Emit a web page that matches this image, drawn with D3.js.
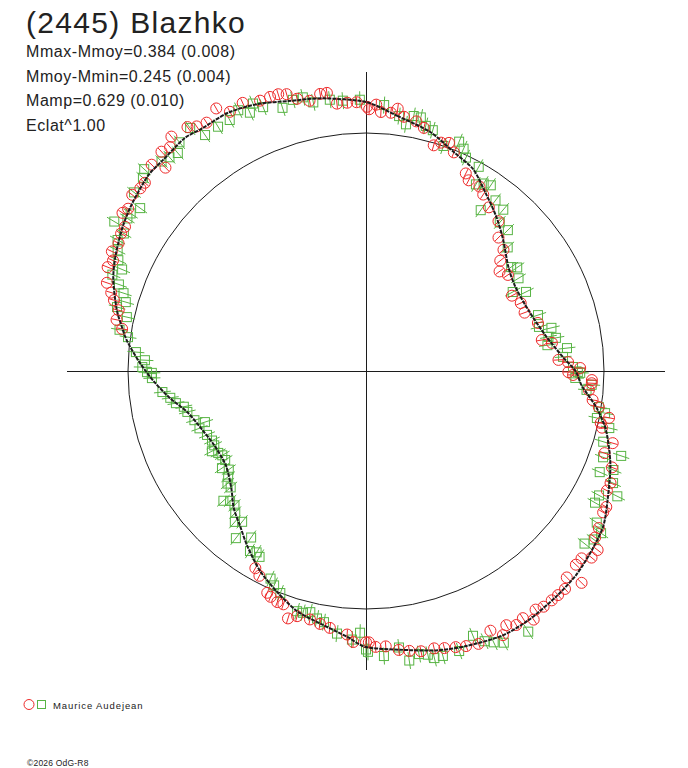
<!DOCTYPE html>
<html><head><meta charset="utf-8">
<script src="https://cdn.jsdelivr.net/npm/d3@7"></script>
<style>body{margin:0;background:#fff}svg{display:block}</style>
</head><body><svg id="c" width="688" height="768"></svg>
<script>
// ---- text ----
const title = "(2445) Blazhko";
const statLines = ["Mmax-Mmoy=0.384 (0.008)", "Mmoy-Mmin=0.245 (0.004)", "Mamp=0.629 (0.010)", "Eclat^1.00"];
const legendLabel = "Maurice Audejean";
const credit = "\u00A92026 OdG-R8";

// ---- data (phase in degrees, amplitude relative to mean circle) ----
const meanAmp = 1.0;
const axisExtent = 1.255;
const curvePhase = [0,7,15,22,28,34,40,46,54,61,70,79,86,90,94,99,104,111,118,123,128,134,140,147,153,160,166,173,180,184,190,196,202,208,214,219,224,229,236,244,250,257,262,267,272,277,280,284,290,295,301,306,312,316,322,326,332,338,344,351];
const curveAmp   = [1.13,1.08,1.04,0.99,0.96,0.90,0.85,0.80,0.74,0.72,0.73,0.77,0.83,0.88,0.91,0.98,1.04,1.10,1.15,1.19,1.21,1.23,1.24,1.25,1.25,1.23,1.21,1.18,1.16,1.12,1.08,1.05,1.00,0.95,0.89,0.84,0.80,0.75,0.71,0.71,0.73,0.77,0.83,0.89,0.95,1.01,1.04,1.08,1.13,1.16,1.19,1.21,1.23,1.23,1.24,1.23,1.23,1.21,1.18,1.16];

const redObs = [
[330.3,1.27],[332.3,1.23],[335.3,1.24],[338.6,1.22],[340.7,1.22],[342.4,1.22],[344,1.21],[345.8,1.18],[348.2,1.16],[350.6,1.18],[352,1.18],[353.8,1.13],[356,1.13],[358,1.13],[0.2,1.11],
[327.3,1.24],[325.3,1.25],[323.8,1.27],[320.3,1.28],[318.8,1.25],[317,1.26],[315.4,1.20],[313.9,1.25],[310.4,1.22],[309,1.22],[307,1.23],[304.3,1.21],[303,1.22],[300.9,1.18],[299.3,1.18],[297.3,1.17],[295.2,1.18],[293.6,1.16],[291.9,1.17],[288.8,1.15],[287.1,1.12],[285.7,1.10],[283.8,1.07],[281.6,1.07],[279.8,1.04],
[209.3,0.95],[207.5,0.97],[204,1.02],[202.9,1.03],[201,1.04],[199.5,1.04],[197.5,1.09],[195.7,1.07],[192.7,1.07],[190.3,1.08],[188,1.09],[184.1,1.11],[182.7,1.14],[180,1.14],
[90.3,0.85],[91.1,0.87],[93.1,0.95],[94.9,0.94],[97.3,0.96],[98.8,0.99],[100.9,1.04],[102.5,1.01],[103.5,1.02],[106.3,1.08],[109,1.06],[111.4,1.11],[114.6,1.13],[116.4,1.13],[119.5,1.16],[120.8,1.16],[124,1.18],[126,1.19],[127.7,1.23],[129.6,1.23],[131,1.20],[132.7,1.20],[135.8,1.21],[134.5,1.27],[137.6,1.24],[139.4,1.24],[141,1.24],[143,1.24],[144.6,1.23],[146,1.26],[147.6,1.23],[149.4,1.24],[151.1,1.22],[154.4,1.21],[152.6,1.25],[157.6,1.24],[160,1.23],[162,1.22],[164.2,1.21],[166.2,1.20],[168.9,1.20],[171.2,1.19],[173.3,1.18],[175.9,1.16],[178,1.16],[179.4,1.14],
[0.7,1.10],[2.2,1.12],[3.3,1.09],[5.5,1.09],[6.9,1.11],[8.5,1.08],[11.4,1.07],[13.4,1.05],[16.7,0.99],[18.2,1.01],[20,1.02],[21.9,0.99],[26.8,0.93],[28.3,0.91],[31.6,0.91],[33.6,0.89],[36.9,0.86],[41.5,0.84],[44.8,0.79],[48.6,0.77],[50.6,0.73],[53.3,0.70],[55.9,0.72],[62.7,0.69],[66.3,0.71],[69.8,0.71],[74.4,0.75],[80,0.75],[81.4,0.79],[86.7,0.81],[87.5,0.85],[89.2,0.90],[92.3,0.95]
];

const greenObs = [
[333.9,1.22],[335.8,1.19],[337.1,1.22],[338.7,1.19],[342.4,1.16],[344.9,1.18],[347,1.18],[348.9,1.15],[352.4,1.15],[355.1,1.14],[358.7,1.14],[331.5,1.20],[328.8,1.20],[325.7,1.20],[324.1,1.26],[320.8,1.24],[319.2,1.21],[317.4,1.22],[315.7,1.23],[312.3,1.26],[310.9,1.24],[307.6,1.23],[305.8,1.17],[303.8,1.19],[300.7,1.23],[302.6,1.19],[299.6,1.17],[297.8,1.18],[295.9,1.16],[294.1,1.14],[292.6,1.11],[290.8,1.14],[289.3,1.10],[287.8,1.07],[286,1.05],[284.4,1.08],[282.7,1.03],[279.5,1.05],[278.1,1.01],[274.7,0.97],[272.8,0.93],[271,0.94],[269.5,0.90],
[269.7,0.92],[268.1,0.90],[264.1,0.86],[262.2,0.83],[260.4,0.81],[258.9,0.78],[257.1,0.77],[254,0.75],[252.4,0.71],[251,0.74],[248.1,0.72],[245.7,0.71],[243.9,0.71],[242.5,0.73],[241,0.71],[239.6,0.70],[237.7,0.70],[236,0.73],[234.3,0.71],[232.5,0.73],[230.9,0.75],[229.3,0.75],[227.7,0.81],[226.3,0.79],[224.4,0.79],[222.7,0.81],[221,0.84],[219.4,0.82],[217.9,0.89],[214.6,0.85],[212.8,0.90],[211.1,0.89],[209.8,0.90],[204.7,0.96],[203.2,0.98],[201.1,1.00],[196,1.05],[194.6,1.05],[193,1.04],[191.2,1.06],[189.5,1.07],[186.3,1.11],[183,1.13],[181.3,1.10],[180,1.17],
[90.3,0.89],[91.9,0.88],[94.9,0.93],[93.5,0.95],[98.8,0.99],[101.5,0.99],[100,1.02],[103.2,1.05],[106.6,1.04],[110,1.06],[108.4,1.13],[113.4,1.07],[111.8,1.12],[114.4,1.14],[118.1,1.11],[116.5,1.18],[119.9,1.11],[123.3,1.16],[124.6,1.20],[126.5,1.19],[128.3,1.17],[148.1,1.29],[153.1,1.28],[154.8,1.26],[156.3,1.24],[158,1.20],[161.6,1.24],[164.9,1.24],[166.6,1.24],[167.7,1.22],[169.4,1.21],[171.5,1.23],[173.2,1.17],[176.4,1.20],[179.6,1.18],
[3.9,1.12],[7.4,1.08],[10.6,1.09],[12.2,1.09],[9.2,1.05],[13.7,1.06],[15.5,1.05],[19,1.00],[22.1,1.04],[23.7,1.02],[25.1,0.99],[28.9,0.98],[30.5,0.91],[32.1,0.93],[33.9,0.94],[37.2,0.90],[40.4,0.89],[35.5,0.83],[42,0.84],[45.2,0.84],[48.9,0.79],[54.4,0.75],[55.6,0.77],[58.7,0.75],[61.7,0.70],[63.7,0.75],[72,0.76],[75.7,0.75],[79.4,0.78],[76.9,0.80],[80.1,0.81],[81.9,0.77],[83.5,0.85],[85.9,0.83],[88.9,0.87],[90.5,0.90]
];

// ---- drawing ----
const svg = d3.select("#c");
const cx = 366, cy = 371;
const rScale = d3.scaleLinear().domain([0, 1]).range([0, 238]);
const aScale = d3.scaleLinear().domain([0, 360]).range([0, 2 * Math.PI]);
const X = (p, a) => rScale(a) * Math.sin(aScale(p));
const Y = (p, a) => -rScale(a) * Math.cos(aScale(p));
const RED = "#ee2a2a", GREEN = "#58b444", INK = "#1c1c1c";

svg.append("rect").attr("width", 688).attr("height", 768).attr("fill", "#fff");
const g = svg.append("g").attr("transform", `translate(${cx},${cy})`);

// axes
[[270, 90], [0, 180]].forEach(([p1, p2]) => {
  g.append("line")
    .attr("x1", X(p1, axisExtent)).attr("y1", Y(p1, axisExtent))
    .attr("x2", X(p2, axisExtent)).attr("y2", Y(p2, axisExtent))
    .attr("stroke", INK).attr("stroke-width", 1).attr("shape-rendering", "crispEdges");
});
// mean circle
g.append("circle").attr("r", rScale(meanAmp)).attr("fill", "none").attr("stroke", INK).attr("stroke-width", 1);

function errBar(sel, half) {
  sel.append("line")
    .attr("x1", d => X(d[0], d[1]) - half * Math.sin(aScale(d[0])))
    .attr("y1", d => Y(d[0], d[1]) + half * Math.cos(aScale(d[0])))
    .attr("x2", d => X(d[0], d[1]) + half * Math.sin(aScale(d[0])))
    .attr("y2", d => Y(d[0], d[1]) - half * Math.cos(aScale(d[0])));
}

// green squares
const gg = g.append("g").attr("stroke", GREEN).attr("fill", "none").attr("stroke-width", 1);
const gs = gg.selectAll("g").data(greenObs).join("g");
gs.append("rect")
  .attr("x", d => X(d[0], d[1]) - 4.5).attr("y", d => Y(d[0], d[1]) - 4.5)
  .attr("width", 9).attr("height", 9);
errBar(gs, 8.5);

// red circles
const rg = g.append("g").attr("stroke", RED).attr("fill", "none").attr("stroke-width", 1);
const rs = rg.selectAll("g").data(redObs).join("g");
rs.append("circle")
  .attr("cx", d => X(d[0], d[1])).attr("cy", d => Y(d[0], d[1])).attr("r", 5.5);
errBar(rs, 5);

// fitted curve
const curveData = curvePhase.map((p, i) => [p, curveAmp[i]]);
const line = d3.lineRadial()
  .angle(d => aScale(d[0])).radius(d => rScale(d[1]))
  .curve(d3.curveCardinalClosed.tension(0.2));
g.append("path").attr("d", line(curveData))
  .attr("fill", "none").attr("stroke", INK).attr("stroke-width", 2)
  .attr("stroke-dasharray", "4,1");

// texts
const FONT = "'Liberation Sans', Arial, sans-serif";
svg.append("text").attr("x", 26).attr("y", 33).text(title)
  .attr("font-family", FONT).attr("font-size", 30).attr("letter-spacing", 1.3).attr("fill", "#222");
svg.selectAll("text.stat").data(statLines).join("text").attr("class", "stat")
  .attr("x", 26).attr("y", (d, i) => 57 + i * 24.6).text(d => d)
  .attr("font-family", FONT).attr("font-size", 16).attr("letter-spacing", 0.55).attr("fill", "#222");

// legend
svg.append("circle").attr("cx", 29).attr("cy", 704.5).attr("r", 5)
  .attr("fill", "none").attr("stroke", RED).attr("stroke-width", 1);
svg.append("rect").attr("x", 37.5).attr("y", 700.5).attr("width", 8).attr("height", 8)
  .attr("fill", "none").attr("stroke", GREEN).attr("stroke-width", 1);
svg.append("text").attr("x", 53).attr("y", 709).text(legendLabel)
  .attr("font-family", FONT).attr("font-size", 9.5).attr("letter-spacing", 0.9).attr("fill", "#222");
svg.append("text").attr("x", 27).attr("y", 766).text(credit)
  .attr("font-family", FONT).attr("font-size", 8.5).attr("letter-spacing", 0.2).attr("fill", "#222");
</script>
</body></html>
